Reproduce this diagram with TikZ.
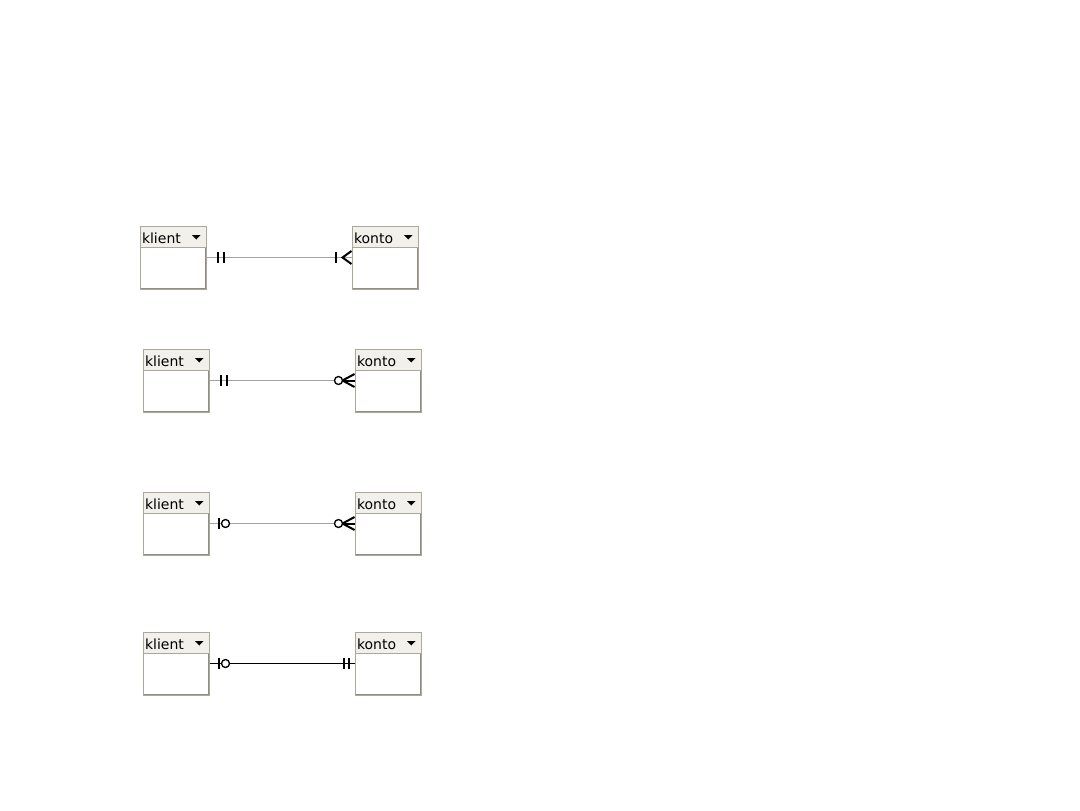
\documentclass[tikz,border=0pt]{standalone}
\usepackage{fontspec}
\setmainfont{DejaVu Sans}
\usepackage{tikz}
\usetikzlibrary{positioning, calc}
\definecolor{erdedge}{HTML}{ACA899}
\definecolor{erdshade}{HTML}{8F8D86}
\definecolor{erdhead}{HTML}{F1F0EB}
\definecolor{erdline}{HTML}{A3A3A3}

\begin{document}
\begin{tikzpicture}[
  x=0.75pt, y=-0.75pt,
  font=\fontsize{10.5pt}{12pt}\selectfont,
  entity/.style={draw=erdedge, line width=0.75pt, fill=white, inner sep=0pt,
                 minimum width=49.5pt, minimum height=47.25pt,
                 path picture={\draw[erdshade, line width=1.5pt]
                   (path picture bounding box.north east) --
                   (path picture bounding box.south east) --
                   (path picture bounding box.south west);}},
  header/.style={draw=erdedge, line width=0.75pt, fill=erdhead, inner xsep=1.5pt,
                 inner ysep=0pt, text width=46.5pt, align=left,
                 text height=10pt, minimum height=15.75pt,
                 path picture={\fill[black] ($(path picture bounding box.east)+(-14,-1.5)$)
                   -- ++(8.5,0) -- ++(-4.25,4.5) -- cycle;}},
  rel/.style={erdline, line width=0.9pt},
  relbold/.style={black, line width=1.2pt},
  tick/.style={black, line width=1.5pt},
  ring/.style={black, line width=1pt, fill=white}
]
\useasboundingbox (0,0) rectangle (1080,810);

% Entities, left column placed, right column relative
\node[entity] (k1) at (173,257.5) {};
\node[entity] (k2) at (176,380.5) {};
\node[entity] (k3) at (176,523.5) {};
\node[entity] (k4) at (176,663.5) {};
\node[entity, right=108.75pt of k1] (o1) {};
\node[entity, right=108.75pt of k2] (o2) {};
\node[entity, right=108.75pt of k3] (o3) {};
\node[entity, right=108.75pt of k4] (o4) {};

% Headers
\node[header, anchor=north] (k1h) at (k1.north) {klient};
\node[header, anchor=north] (k2h) at (k2.north) {klient};
\node[header, anchor=north] (k3h) at (k3.north) {klient};
\node[header, anchor=north] (k4h) at (k4.north) {klient};
\node[header, anchor=north] (o1h) at (o1.north) {konto};
\node[header, anchor=north] (o2h) at (o2.north) {konto};
\node[header, anchor=north] (o3h) at (o3.north) {konto};
\node[header, anchor=north] (o4h) at (o4.north) {konto};

% Row 1: exactly one -- one or many
\draw[rel] (k1.east) -- (o1.west);
\draw[tick] ($(k1.east)+(11,-5.5)$) -- ++(0,11);
\draw[tick] ($(k1.east)+(17,-5.5)$) -- ++(0,11);
\draw[tick] ($(o1.west)+(-16,-5.5)$) -- ++(0,11);
\draw[tick] ($(o1.west)+(0,-6.5)$) -- ++(-9,6.5) -- ++(9,6.5);

% Row 2: exactly one -- zero or many
\draw[rel] (k2.east) -- (o2.west);
\draw[tick] ($(k2.east)+(11,-5.5)$) -- ++(0,11);
\draw[tick] ($(k2.east)+(17,-5.5)$) -- ++(0,11);
\draw[tick] ($(o2.west)+(0,-6.5)$) -- ++(-12,6.5) -- ++(12,6.5);
\draw[tick] ($(o2.west)+(-12,0)$) -- (o2.west);
\draw[ring] ($(o2.west)+(-16,0)$) circle[radius=3pt];

% Row 3: zero or one -- zero or many
\draw[rel] (k3.east) -- (o3.west);
\draw[tick] ($(k3.east)+(9,-5.5)$) -- ++(0,11);
\draw[ring] ($(k3.east)+(16,0)$) circle[radius=3pt];
\draw[tick] ($(o3.west)+(0,-6.5)$) -- ++(-12,6.5) -- ++(12,6.5);
\draw[tick] ($(o3.west)+(-12,0)$) -- (o3.west);
\draw[ring] ($(o3.west)+(-16,0)$) circle[radius=3pt];

% Row 4: zero or one -- exactly one
\draw[relbold] (k4.east) -- (o4.west);
\draw[tick] ($(k4.east)+(9,-5.5)$) -- ++(0,11);
\draw[ring] ($(k4.east)+(16,0)$) circle[radius=3pt];
\draw[tick] ($(o4.west)+(-11,-5.5)$) -- ++(0,11);
\draw[tick] ($(o4.west)+(-6,-5.5)$) -- ++(0,11);

\end{tikzpicture}
\end{document}
